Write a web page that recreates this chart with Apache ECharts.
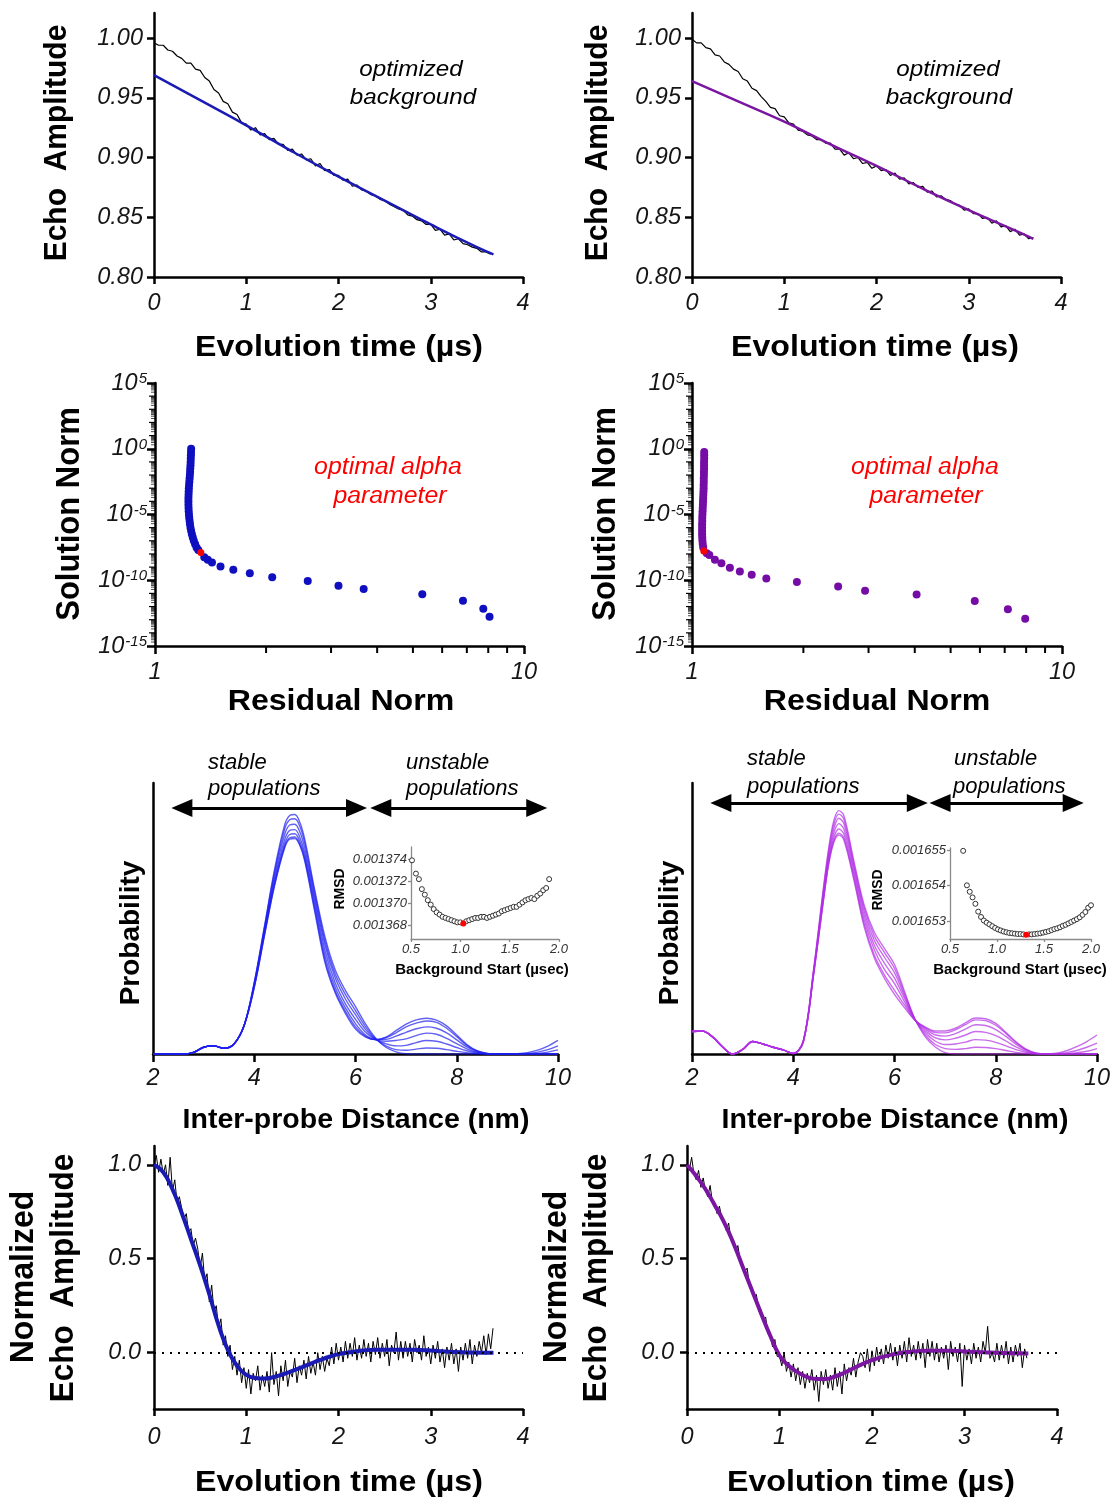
<!DOCTYPE html>
<html><head><meta charset="utf-8">
<script src="https://cdn.jsdelivr.net/npm/echarts@6/dist/echarts.min.js"></script>
<style>html,body{margin:0;padding:0;background:#fff}#c{width:1117px;height:1505px}</style>
</head><body><div id="c"></div>
<script>
// ---------- Row 1: raw echo traces (t step 0.05 us) and background fits ----------
const rawEchoA = [0.996,0.994,0.994,0.990,0.989,0.985,0.983,0.979,0.979,0.974,
0.973,0.967,0.964,0.957,0.954,0.947,0.945,0.938,0.936,0.929,
0.928,0.923,0.925,0.919,0.920,0.915,0.916,0.911,0.911,0.906,
0.907,0.902,0.903,0.898,0.899,0.893,0.895,0.889,0.890,0.885,
0.885,0.881,0.882,0.876,0.877,0.873,0.872,0.869,0.868,0.865,
0.864,0.861,0.859,0.857,0.856,0.852,0.851,0.848,0.847,0.844,
0.844,0.839,0.840,0.835,0.836,0.831,0.832,0.828,0.827,0.825,
0.824,0.821,0.821,0.819];
const rawEchoB = [0.999,0.996,0.996,0.992,0.991,0.986,0.985,0.980,0.978,0.974,
0.972,0.966,0.964,0.958,0.956,0.951,0.947,0.942,0.941,0.935,
0.934,0.929,0.928,0.923,0.922,0.919,0.918,0.915,0.915,0.912,
0.912,0.907,0.907,0.902,0.904,0.899,0.900,0.895,0.896,0.891,
0.893,0.889,0.890,0.885,0.887,0.882,0.883,0.878,0.879,0.875,
0.876,0.871,0.872,0.867,0.868,0.865,0.864,0.861,0.860,0.856,
0.857,0.853,0.853,0.849,0.850,0.845,0.847,0.842,0.843,0.838,
0.840,0.835,0.836,0.832,0.833];
const rawStep = 0.05;
const bgTimeA = [0,0.5,1,1.5,2,2.5,3,3.5,3.68];
const bgFitA  = [0.969,0.948,0.927,0.905,0.884,0.864,0.844,0.825,0.819];
const bgTimeB = [0,0.5,1,1.5,2,2.5,3,3.5,3.7];
const bgFitB  = [0.964,0.947,0.930,0.911,0.893,0.874,0.856,0.839,0.832];
const echoTicks = [0.80,0.85,0.90,0.95,1.00];

// ---------- Row 2: L-curves ----------
const residA = [1.253,1.252,1.251,1.250,1.249,1.248,1.246,1.245,1.243,1.241,1.239,1.237,1.235,1.234,1.233,1.232,1.232,1.232,1.233,1.234,1.236,1.238,1.241,1.244,1.248,1.253,1.259,1.266,1.274,1.284,1.296,1.310,
1.360,1.390,1.427,1.505,1.630,1.807,2.078,2.594,3.142,3.677,5.301,6.833,7.758,8.065];
const solA = [1,5.62e-1,3.16e-1,1.78e-1,1e-1,5.62e-2,3.16e-2,1.78e-2,1e-2,5.62e-3,3.16e-3,1.78e-3,1e-3,5.62e-4,3.16e-4,1.78e-4,1e-4,5.62e-5,3.16e-5,1.78e-5,1e-5,5.62e-6,3.16e-6,1.78e-6,1e-6,5.62e-7,3.16e-7,1.78e-7,1e-7,5.62e-8,3.16e-8,2.0e-8,
5.62e-9,3.55e-9,2.24e-9,1.10e-9,6.17e-10,3.39e-10,1.70e-10,8.9e-11,3.9e-11,2.19e-11,8.5e-12,2.82e-12,6.9e-13,1.70e-13];
const optA = [1.331, 1.29e-8];
const residB = [1.079,1.079,1.079,1.078,1.078,1.078,1.077,1.077,1.076,1.076,1.075,1.075,1.074,1.073,1.072,1.071,1.070,1.069,1.068,1.067,1.066,1.066,1.065,1.065,1.065,1.065,1.066,1.067,1.069,1.072,
1.096,1.114,1.153,1.201,1.266,1.347,1.450,1.588,1.921,2.483,2.936,4.046,5.811,7.141,7.953];
const solB = [5.62e-1,3.16e-1,1.78e-1,1e-1,5.62e-2,3.16e-2,1.78e-2,1e-2,5.62e-3,3.16e-3,1.78e-3,1e-3,5.62e-4,3.16e-4,1.78e-4,1e-4,5.62e-5,3.16e-5,1.78e-5,1e-5,5.62e-6,3.16e-6,1.78e-6,1e-6,5.62e-7,3.16e-7,1.78e-7,1e-7,5.62e-8,3.16e-8,
1.15e-8,8.5e-9,3.55e-9,1.95e-9,9.1e-10,4.57e-10,2.57e-10,1.35e-10,7.4e-11,3.3e-11,1.62e-11,8.1e-12,2.69e-12,6.2e-13,1.20e-13];
const optB = [1.076, 1.70e-8];
const logYTicks = [1e-15,1e-10,1e-5,1,1e5];
const logXTicks = [1,10];

// ---------- Row 3: distance distributions ----------
const distX = [2.0,2.2,2.4,2.6,2.8,3.0,3.2,3.4,3.6,3.8,4.0,4.2,4.4,4.6,4.7,4.8,4.9,5.0,5.2,5.4,5.6,5.8,6.0,6.2,6.4,6.6,6.8,7.0,7.2,7.4,7.6,7.8,8.0,8.2,8.4,8.6,8.8,9.0,9.2,9.4,9.6,9.8,10.0];
const distBaseA = [0,0,0,0,0.006,0.025,0.03,0.021,0.037,0.105];
const distA0 = [.265,.47,.68,.845,.88,.884,.855,.79,.60,.43,.31,.235,.175,.11,.058,.025,.008,.001,0,0,0,0,0,0,0,0,0,0,.001,.005,.014,.029,.05];
const distA1 = [.262,.465,.67,.83,.864,.868,.84,.776,.59,.415,.295,.22,.16,.10,.055,.03,.016,.014,.018,.022,.021,.016,.01,.005,.002,0,0,0,0,.002,.007,.016,.03];
const distA2 = [.258,.458,.657,.81,.845,.848,.82,.758,.575,.40,.28,.203,.145,.09,.054,.038,.03,.032,.042,.05,.047,.037,.024,.012,.004,0,0,0,0,0,.002,.007,.015];
const distA3 = [.254,.45,.643,.79,.825,.828,.80,.74,.56,.38,.262,.185,.128,.08,.053,.047,.05,.056,.068,.077,.073,.058,.038,.019,.006,.001,0,0,0,0,0,0,0];
const distA4 = [.25,.443,.632,.775,.81,.813,.785,.726,.545,.36,.245,.17,.112,.07,.053,.054,.066,.08,.093,.10,.095,.078,.052,.026,.009,.001,0,0,0,0,0,0,0];
const distA5 = [.247,.438,.624,.765,.798,.801,.774,.716,.53,.345,.232,.158,.10,.065,.053,.06,.078,.10,.114,.122,.117,.095,.064,.032,.011,.002,0,0,0,0,0,0,0];
const distA6 = [.245,.435,.62,.76,.793,.795,.77,.71,.52,.335,.225,.15,.092,.062,.053,.062,.086,.11,.126,.132,.125,.104,.07,.035,.012,.002,0,0,0,0,0,0,0];
const distBaseB = [.083,.085,.064,.027,0,.017,.046,.037,.025,.015];
const distB0 = [.002,.05,.31,.62,.76,.86,.898,.88,.71,.55,.45,.39,.33,.23,.13,.065,.027,.005,0,0,0,0,0,0,0,0,0,0,.003,.012,.027,.046,.07];
const distB1 = [.002,.049,.305,.61,.748,.847,.885,.866,.70,.54,.436,.375,.316,.222,.13,.072,.036,.02,.017,.02,.025,.024,.02,.013,.006,.002,0,0,0,.005,.013,.025,.04];
const distB2 = [.002,.048,.30,.60,.735,.83,.87,.85,.688,.527,.42,.357,.30,.213,.129,.08,.048,.035,.037,.044,.053,.051,.043,.03,.016,.006,.001,0,0,0,.005,.01,.02];
const distB3 = [.002,.047,.297,.59,.723,.813,.85,.83,.675,.512,.402,.335,.28,.204,.128,.088,.06,.052,.058,.07,.083,.08,.068,.048,.026,.01,.001,0,0,0,0,0,0];
const distB4 = [.002,.046,.294,.58,.712,.797,.83,.812,.66,.495,.385,.312,.26,.192,.127,.094,.071,.066,.075,.092,.108,.105,.09,.065,.036,.014,.002,0,0,0,0,0,0];
const distB5 = [.002,.045,.291,.574,.704,.786,.815,.797,.648,.48,.365,.292,.235,.18,.126,.098,.08,.078,.089,.108,.126,.123,.106,.076,.042,.016,.003,0,0,0,0,0,0];
const distB6 = [.002,.045,.29,.57,.70,.78,.808,.79,.64,.47,.355,.28,.22,.17,.125,.10,.085,.085,.095,.115,.133,.13,.113,.08,.045,.018,.003,0,0,0,0,0,0];

// ---------- Insets: RMSD vs background start ----------
const bgStartA = [0.51,0.55,0.58,0.61,0.64,0.67,0.70,0.73,0.76,0.79,0.82,0.85,0.88,0.91,0.94,0.97,1.00,1.06,1.09,1.12,1.15,1.18,1.21,1.24,1.27,1.30,1.33,1.36,1.39,1.42,1.45,1.48,1.51,1.54,1.57,1.60,1.63,1.66,1.69,1.72,1.75,1.78,1.81,1.84,1.87,1.90];
const rmsdA = [.0013739,.0013727,.0013722,.0013713,.0013708,.0013703,.0013699,.0013695,.0013692,.0013690,.0013688,.0013687,.0013686,.0013685,.0013684,.0013683,.0013683,.0013684,.0013685,.0013686,.0013687,.0013687,.0013688,.0013688,.0013687,.0013688,.0013689,.0013690,.0013691,.0013693,.0013694,.0013695,.0013696,.0013697,.0013697,.0013699,.0013701,.0013703,.0013704,.0013705,.0013704,.0013707,.0013709,.0013712,.0013714,.0013722];
const rmsdOptA = [1.03, .0013682];
const rmsdTicksA = [0.001368,0.001370,0.001372,0.001374];
const bgStartB = [0.64,0.68,0.71,0.74,0.77,0.80,0.83,0.86,0.89,0.92,0.95,0.98,1.01,1.04,1.07,1.10,1.13,1.16,1.19,1.22,1.25,1.28,1.34,1.37,1.40,1.43,1.46,1.49,1.52,1.55,1.58,1.61,1.64,1.67,1.70,1.73,1.76,1.79,1.82,1.85,1.88,1.91,1.94,1.97,2.00];
const rmsdB = [.00165498,.00165401,.00165383,.00165367,.00165349,.00165327,.00165312,.00165302,.00165296,.00165291,.00165286,.00165281,.00165277,.00165274,.00165271,.00165269,.00165267,.00165266,.00165265,.00165264,.00165264,.00165263,.00165263,.00165263,.00165264,.00165265,.00165266,.00165268,.00165270,.00165272,.00165275,.00165278,.00165280,.00165283,.00165287,.00165290,.00165294,.00165298,.00165302,.00165306,.00165311,.00165318,.00165326,.00165338,.00165345];
const rmsdOptB = [1.31, .00165262];
const rmsdTicksB = [0.001653,0.001654,0.001655];
const bgStartTicks = [0.5,1.0,1.5,2.0];

// ---------- Row 4: background-corrected traces (t step 0.025 us) and fits ----------
const normEchoA = [1.00,1.05,0.96,1.03, 0.95,1.00,0.89,1.04, 0.86,0.92,0.80,0.83, 0.77,0.71,0.74,0.64,
0.66,0.57,0.61,0.55, 0.45,0.53,0.38,0.42, 0.27,0.36,0.22,0.25, 0.13,0.18,0.04,0.09,
-0.02,0.04,-0.09,-0.02, -0.12,-0.04,-0.16,-0.08, -0.19,-0.09,-0.22,-0.11, -0.15,-0.07,-0.20,-0.12,
-0.18,-0.10,-0.21,0.00, -0.17,-0.10,-0.23,-0.07, -0.15,-0.04,-0.18,-0.10, -0.13,-0.03,-0.16,-0.07,
-0.12,-0.04,-0.14,-0.02, -0.11,-0.05,-0.12,0.00, -0.09,-0.02,-0.10,-0.03, -0.07,0.03,-0.06,0.05,
-0.04,0.03,-0.05,0.06, -0.03,0.05,-0.02,0.08, -0.04,0.04,-0.03,0.07, -0.02,0.05,-0.05,0.06,
-0.01,0.08,-0.03,0.05, -0.02,0.07,-0.07,0.04, 0.00,0.11,-0.04,0.06, -0.03,0.06,-0.02,0.05,
-0.05,0.07,0.00,0.04, -0.04,0.09,-0.02,0.03, -0.06,0.04,-0.03,0.06, -0.05,0.02,-0.08,0.03,
-0.04,0.05,-0.06,0.02, -0.10,0.03,-0.04,0.05, -0.03,0.07,-0.06,0.04, -0.02,0.06,0.00,0.09,
-0.01,0.10,0.02,0.13];
const normEchoB = [1.00,0.97,1.04,0.95, 0.92,0.97,0.88,0.93, 0.86,0.83,0.89,0.80, 0.80,0.74,0.78,0.72,
0.70,0.65,0.69,0.60, 0.60,0.54,0.57,0.49, 0.47,0.43,0.45,0.36, 0.34,0.30,0.31,0.22,
0.23,0.17,0.19,0.10, 0.10,0.03,0.07,-0.02, -0.02,-0.07,0.00,-0.10, -0.05,-0.13,-0.06,-0.15,
-0.08,-0.17,-0.10,-0.19, -0.11,-0.16,-0.09,-0.20, -0.12,-0.26,-0.10,-0.17, -0.09,-0.19,-0.12,-0.20,
-0.08,-0.18,-0.10,-0.22, -0.06,-0.15,-0.08,-0.12, -0.03,-0.13,-0.05,0.00, -0.02,-0.08,0.02,-0.10,
0.01,-0.07,0.03,-0.05, 0.02,-0.06,0.04,-0.03, 0.05,-0.04,0.03,-0.07, 0.04,-0.03,0.06,-0.05,
0.08,-0.02,0.04,-0.04, 0.06,-0.03,0.05,-0.08, 0.07,-0.02,0.06,-0.04, 0.05,-0.05,0.03,-0.03,
0.04,-0.09,0.06,-0.02, 0.03,-0.05,0.05,-0.18, 0.04,-0.04,0.02,-0.06, 0.05,-0.03,0.03,-0.05,
0.06,0.00,0.14,-0.03, 0.00,-0.05,0.05,-0.04, 0.04,-0.03,0.06,-0.06, 0.03,-0.05,0.04,-0.02,
0.05,-0.08,0.02,-0.03];
const normStep = 0.025;
const fitTimeA = [0,0.1,0.2,0.3,0.4,0.5,0.6,0.7,0.8,0.9,1.0,1.1,1.2,1.3,1.4,1.5,1.6,1.7,1.8,1.9,2.0,2.2,2.4,2.6,2.8,3.0,3.2,3.4,3.68];
const fitA = [1.0,0.96,0.87,0.745,0.605,0.465,0.31,0.145,0.015,-0.07,-0.118,-0.135,-0.138,-0.13,-0.115,-0.097,-0.078,-0.058,-0.039,-0.022,-0.008,0.008,0.015,0.016,0.015,0.011,0.005,0.001,0.0];
const fitTimeB = [0,0.1,0.2,0.3,0.4,0.5,0.6,0.7,0.8,0.9,1.0,1.1,1.2,1.3,1.4,1.5,1.6,1.7,1.8,1.9,2.0,2.2,2.4,2.6,2.8,3.0,3.2,3.4,3.69];
const fitB = [1.0,0.94,0.87,0.785,0.695,0.585,0.46,0.335,0.21,0.09,-0.015,-0.07,-0.105,-0.13,-0.14,-0.14,-0.127,-0.107,-0.083,-0.06,-0.04,-0.012,0.004,0.01,0.01,0.006,0.002,-0.002,-0.004];
const normTicks = [0,0.5,1.0];

// ---------- helpers ----------
const F = '"Liberation Sans", Arial, Helvetica, sans-serif';
const BLUE = '#1a1ab4', PURPLE = '#7a16a2', BLUE_DOT = '#0f0fc0', PURPLE_DOT = '#760ca6';
const BLUE3 = '#1e1ef0', PURPLE3 = '#b02ee4';
const TICK_FS = 23.5;
function isObj(o){return o && typeof o==='object' && !Array.isArray(o);}
function merge(a,b){const r=Object.assign({},a);for(const k in b){if(isObj(b[k])&&isObj(r[k]))r[k]=merge(r[k],b[k]);else r[k]=b[k];}return r;}
function pairs(xs, ys){return ys.map((y,i)=>[xs[i], y]);}
function stepPairs(ys, step){return ys.map((y,i)=>[+(i*step).toFixed(3), y]);}

const mainAxis = {
  type:'value',
  axisLine:{show:true,onZero:false,lineStyle:{color:'#000',width:2.5}},
  axisTick:{show:true,length:7,lineStyle:{color:'#000',width:2.5}},
  axisLabel:{show:true,fontFamily:F,fontStyle:'italic',fontSize:TICK_FS,color:'#151515',margin:12},
  splitLine:{show:false},minorTick:{show:false},minorSplitLine:{show:false},axisPointer:{show:false}
};
const insetAxis = merge(mainAxis,{
  axisLine:{lineStyle:{color:'#8a8a8a',width:1.3}},
  axisTick:{length:3,lineStyle:{color:'#8a8a8a',width:1.3}},
  axisLabel:{fontSize:13,color:'#333',margin:4}
});
const logRich = {
  b:{fontFamily:F,fontStyle:'italic',fontSize:TICK_FS,color:'#151515'},
  s:{fontFamily:F,fontStyle:'italic',fontSize:15,color:'#151515',verticalAlign:'top',padding:[0,0,0,1]}
};
function logX(g){return merge(mainAxis,{gridIndex:g,type:'log',logBase:10,min:1,max:10,
  axisTick:{length:8,customValues:logXTicks},axisLabel:{margin:15,customValues:logXTicks,formatter:v=>String(Math.round(v))}});}
function logY(g){return merge(mainAxis,{gridIndex:g,type:'log',logBase:10,min:1e-15,max:1e5,
  axisTick:{length:8,customValues:logYTicks},axisLabel:{margin:8,customValues:logYTicks,
  formatter:v=>'{b|10}{s|'+Math.round(Math.log10(v))+'}',rich:logRich}});}
function timeX(g,m){return merge(mainAxis,{gridIndex:g,min:0,max:4,interval:1,axisLabel:{margin:m}});}
function distXAxis(g){return merge(mainAxis,{gridIndex:g,min:2,max:10,interval:2,axisTick:{length:8},axisLabel:{margin:13}});}
function insetX(g){return merge(insetAxis,{gridIndex:g,min:0.5,max:2,interval:0.5,axisTick:{customValues:bgStartTicks},axisLabel:{customValues:bgStartTicks,formatter:v=>v.toFixed(1)}});}

// decorative log minor ticks (positions on the log axes)
const minorX = [2,3,4,5,6,7,8,9];
const minorY = [];
for (let e=-15;e<5;e++) for (let m=1;m<10;m++){ if(m===1 && e%5===0) continue; minorY.push(m*Math.pow(10,e)); }
function minorXSeries(g){return {type:'custom',xAxisIndex:g,yAxisIndex:g,clip:false,silent:true,z:5,
  data:minorX.map(v=>[v,1e-15]),
  renderItem:(p,api)=>{const c=api.coord([api.value(0),1e-15]);return {type:'line',shape:{x1:c[0],y1:c[1],x2:c[0],y2:c[1]+7},style:{stroke:'#000',lineWidth:2}};}};}
function minorYSeries(g){return {type:'custom',xAxisIndex:g,yAxisIndex:g,clip:false,silent:true,z:5,
  data:minorY.map(v=>[1,v]),
  renderItem:(p,api)=>{const c=api.coord([1,api.value(1)]);const v=api.value(1);const dec=Math.abs(Math.log10(v)-Math.round(Math.log10(v)))<1e-6;
    return {type:'line',shape:{x1:c[0]-(dec?6:4),y1:c[1],x2:c[0],y2:c[1]},style:{stroke:'#000',lineWidth:dec?1.2:0.7}};}};}

function distSeries(g, base, curves, color, arrows){
  return curves.map((cv,k)=>{
    const full = base.concat(cv);
    const s = {type:'line',xAxisIndex:g,yAxisIndex:g,data:pairs(distX, full),showSymbol:false,smooth:0.35,
      silent:true,z:2,lineStyle:{color:color,width:1.4,opacity:0.7}};
    if(k===0){
      s.markLine={silent:true,symbol:['triangle','triangle'],symbolSize:[18,21],label:{show:false},
        emphasis:{disabled:true},itemStyle:{color:'#000'},
        lineStyle:{color:'#000',width:3,type:'solid',opacity:1},data:arrows};
    }
    return s;
  });
}
function txt(text,x,y,o){o=o||{};return {type:'text',x:x,y:y,rotation:o.rot||0,scaleX:o.sx||1,scaleY:o.sy||1,z:100,silent:true,
  style:{text:text,fill:o.color||'#000',fontFamily:F,fontSize:o.size||22,fontWeight:o.weight||'normal',fontStyle:o.style||'normal',
  align:o.align||'center',verticalAlign:'middle'}};}
const R = Math.PI/2;
const bold = (s)=>({weight:'bold',size:s});

const option = {
  animation:false, backgroundColor:'#fff',
  grid:[
    {left:154,top:13,width:369,height:264},
    {left:692,top:13,width:369,height:264},
    {left:155,top:383,width:369,height:263},
    {left:692,top:383,width:370,height:263},
    {left:153,top:783,width:405,height:271},
    {left:692,top:783,width:405,height:271},
    {left:411,top:847,width:148,height:92},
    {left:950,top:848,width:141,height:91},
    {left:154,top:1146,width:369,height:263},
    {left:687,top:1146,width:370,height:263}
  ].map(g=>Object.assign(g,{containLabel:false,outerBoundsMode:'none'})),
  xAxis:[
    timeX(0,15), timeX(1,15), logX(2), logX(3), distXAxis(4), distXAxis(5), insetX(6), insetX(7), timeX(8,17), timeX(9,17)
  ],
  yAxis:[
    merge(mainAxis,{gridIndex:0,min:0.80,max:1.021,axisTick:{customValues:echoTicks},axisLabel:{margin:11,customValues:echoTicks,formatter:v=>v.toFixed(2)}}),
    merge(mainAxis,{gridIndex:1,min:0.80,max:1.021,axisTick:{customValues:echoTicks},axisLabel:{margin:11,customValues:echoTicks,formatter:v=>v.toFixed(2)}}),
    logY(2), logY(3),
    merge(mainAxis,{gridIndex:4,min:0,max:1,axisTick:{show:false},axisLabel:{show:false}}),
    merge(mainAxis,{gridIndex:5,min:0,max:1,axisTick:{show:false},axisLabel:{show:false}}),
    merge(insetAxis,{gridIndex:6,min:0.0013668,max:0.0013751,axisTick:{customValues:rmsdTicksA},axisLabel:{customValues:rmsdTicksA,formatter:v=>v.toFixed(6)}}),
    merge(insetAxis,{gridIndex:7,min:0.0016525,max:0.00165506,axisTick:{customValues:rmsdTicksB},axisLabel:{customValues:rmsdTicksB,formatter:v=>v.toFixed(6)}}),
    merge(mainAxis,{gridIndex:8,min:-0.3,max:1.1,axisTick:{customValues:normTicks},axisLabel:{margin:13,customValues:normTicks,formatter:v=>v.toFixed(1)}}),
    merge(mainAxis,{gridIndex:9,min:-0.3,max:1.1,axisTick:{customValues:normTicks},axisLabel:{margin:13,customValues:normTicks,formatter:v=>v.toFixed(1)}})
  ],
  series:[
    // row 1
    {type:'line',xAxisIndex:0,yAxisIndex:0,data:stepPairs(rawEchoA,rawStep),showSymbol:false,silent:true,z:2,lineStyle:{color:'#000',width:1.2}},
    {type:'line',xAxisIndex:0,yAxisIndex:0,data:pairs(bgTimeA,bgFitA),smooth:true,showSymbol:false,silent:true,z:3,lineStyle:{color:BLUE,width:2.5}},
    {type:'line',xAxisIndex:1,yAxisIndex:1,data:stepPairs(rawEchoB,rawStep),showSymbol:false,silent:true,z:2,lineStyle:{color:'#000',width:1.2}},
    {type:'line',xAxisIndex:1,yAxisIndex:1,data:pairs(bgTimeB,bgFitB),smooth:true,showSymbol:false,silent:true,z:3,lineStyle:{color:PURPLE,width:2.5}},
    // row 2
    {type:'scatter',xAxisIndex:2,yAxisIndex:2,data:pairs(residA,solA),symbolSize:8,silent:true,itemStyle:{color:BLUE_DOT,opacity:1}},
    {type:'scatter',xAxisIndex:2,yAxisIndex:2,data:[optA],symbolSize:7,silent:true,z:4,itemStyle:{color:'#ff0000',opacity:1}},
    {type:'scatter',xAxisIndex:3,yAxisIndex:3,data:pairs(residB,solB),symbolSize:8,silent:true,itemStyle:{color:PURPLE_DOT,opacity:1}},
    {type:'scatter',xAxisIndex:3,yAxisIndex:3,data:[optB],symbolSize:7,silent:true,z:4,itemStyle:{color:'#ff0000',opacity:1}},
    minorXSeries(2), minorYSeries(2), minorXSeries(3), minorYSeries(3),
    // row 3
    ...distSeries(4, distBaseA, [distA0,distA1,distA2,distA3,distA4,distA5,distA6], BLUE3,
      [[{coord:[2.57,0.908]},{coord:[6.02,0.908]}],[{coord:[6.50,0.908]},{coord:[9.58,0.908]}]]),
    ...distSeries(5, distBaseB, [distB0,distB1,distB2,distB3,distB4,distB5,distB6], PURPLE3,
      [[{coord:[2.57,0.926]},{coord:[6.45,0.926]}],[{coord:[6.90,0.926]},{coord:[9.53,0.926]}]]),
    // insets
    {type:'scatter',xAxisIndex:6,yAxisIndex:6,data:pairs(bgStartA,rmsdA),symbolSize:5,clip:false,silent:true,itemStyle:{color:'#fff',borderColor:'#333',borderWidth:1,opacity:1}},
    {type:'scatter',xAxisIndex:6,yAxisIndex:6,data:[rmsdOptA],symbolSize:6,clip:false,silent:true,z:4,itemStyle:{color:'#ff0000',opacity:1}},
    {type:'scatter',xAxisIndex:7,yAxisIndex:7,data:pairs(bgStartB,rmsdB),symbolSize:5,clip:false,silent:true,itemStyle:{color:'#fff',borderColor:'#333',borderWidth:1,opacity:1}},
    {type:'scatter',xAxisIndex:7,yAxisIndex:7,data:[rmsdOptB],symbolSize:6,clip:false,silent:true,z:4,itemStyle:{color:'#ff0000',opacity:1}},
    // row 4
    {type:'line',xAxisIndex:8,yAxisIndex:8,data:stepPairs(normEchoA,normStep),showSymbol:false,silent:true,z:2,lineStyle:{color:'#000',width:1},
      markLine:{silent:true,symbol:'none',label:{show:false},emphasis:{disabled:true},lineStyle:{color:'#000',width:2,type:[2,6]},data:[{yAxis:0}]}},
    {type:'line',xAxisIndex:8,yAxisIndex:8,data:pairs(fitTimeA,fitA),smooth:true,showSymbol:false,silent:true,z:3,lineStyle:{color:BLUE,width:4}},
    {type:'line',xAxisIndex:9,yAxisIndex:9,data:stepPairs(normEchoB,normStep),showSymbol:false,silent:true,z:2,lineStyle:{color:'#000',width:1},
      markLine:{silent:true,symbol:'none',label:{show:false},emphasis:{disabled:true},lineStyle:{color:'#000',width:2,type:[2,6]},data:[{yAxis:0}]}},
    {type:'line',xAxisIndex:9,yAxisIndex:9,data:pairs(fitTimeB,fitB),smooth:true,showSymbol:false,silent:true,z:3,lineStyle:{color:PURPLE,width:4}}
  ],
  graphic:[
    // row 1
    txt('Evolution time (µs)',339,348,Object.assign(bold(30),{sx:1.07})),
    txt('Evolution time (µs)',875,348,Object.assign(bold(30),{sx:1.07})),
    txt('Echo  Amplitude',57,143,Object.assign(bold(30),{rot:R,sy:1.06})),
    txt('Echo  Amplitude',598,143,Object.assign(bold(30),{rot:R,sy:1.06})),
    txt('optimized',411,70,{style:'italic',size:22,sx:1.1}),
    txt('background',413,98,{style:'italic',size:22,sx:1.1}),
    txt('optimized',948,70,{style:'italic',size:22,sx:1.1}),
    txt('background',949,98,{style:'italic',size:22,sx:1.1}),
    // row 2
    txt('Residual Norm',341,702,Object.assign(bold(30),{sx:1.07})),
    txt('Residual Norm',877,702,Object.assign(bold(30),{sx:1.07})),
    txt('Solution Norm',70,514,Object.assign(bold(31),{rot:R,sy:1.05})),
    txt('Solution Norm',606,514,Object.assign(bold(31),{rot:R,sy:1.05})),
    txt('optimal alpha',388,468,{style:'italic',size:23,sx:1.08,color:'#ff0000'}),
    txt('parameter',390,497,{style:'italic',size:23,sx:1.08,color:'#ff0000'}),
    txt('optimal alpha',925,468,{style:'italic',size:23,sx:1.08,color:'#ff0000'}),
    txt('parameter',926,497,{style:'italic',size:23,sx:1.08,color:'#ff0000'}),
    // row 3
    txt('Inter-probe Distance (nm)',356,1120,bold(28.5)),
    txt('Inter-probe Distance (nm)',895,1120,bold(28.5)),
    txt('Probability',131,933,Object.assign(bold(28),{rot:R})),
    txt('Probability',670,933,Object.assign(bold(28),{rot:R})),
    txt('stable',208,763,{style:'italic',size:22,align:'left'}),
    txt('populations',208,789,{style:'italic',size:22,align:'left'}),
    txt('unstable',406,763,{style:'italic',size:22,align:'left'}),
    txt('populations',406,789,{style:'italic',size:22,align:'left'}),
    txt('stable',747,759,{style:'italic',size:22,align:'left'}),
    txt('populations',747,787,{style:'italic',size:22,align:'left'}),
    txt('unstable',954,759,{style:'italic',size:22,align:'left'}),
    txt('populations',953,787,{style:'italic',size:22,align:'left'}),
    txt('RMSD',340,889,Object.assign(bold(14),{rot:R})),
    txt('RMSD',878,890,Object.assign(bold(14),{rot:R})),
    txt('Background Start (µsec)',482,970,bold(15)),
    txt('Background Start (µsec)',1020,970,bold(15)),
    // row 4
    txt('Normalized',24,1277,Object.assign(bold(32),{rot:R,sy:1.04})),
    txt('Echo  Amplitude',64,1278,Object.assign(bold(31.5),{rot:R,sy:1.04})),
    txt('Normalized',557,1277,Object.assign(bold(32),{rot:R,sy:1.04})),
    txt('Echo  Amplitude',597,1278,Object.assign(bold(31.5),{rot:R,sy:1.04})),
    txt('Evolution time (µs)',339,1483,Object.assign(bold(30),{sx:1.07})),
    txt('Evolution time (µs)',871,1483,Object.assign(bold(30),{sx:1.07}))
  ]
};
const chart = echarts.init(document.getElementById('c'), null, {renderer:'canvas'});
chart.setOption(option);
</script></body></html>
